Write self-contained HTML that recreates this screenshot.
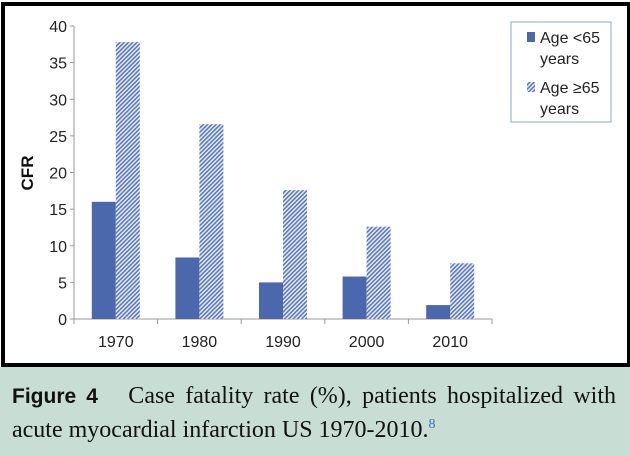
<!DOCTYPE html>
<html><head><meta charset="utf-8"><style>
body{margin:0;width:630px;height:456px;overflow:hidden;background:#fff;font-family:"Liberation Sans",sans-serif}
#frame{position:absolute;left:1px;top:2px;width:622px;height:357px;border:4px solid #000;background:#fff}
#cap{position:absolute;left:0;top:367px;width:630px;height:89px;background:#c8ded5}
.c{position:absolute;font-family:"Liberation Serif",serif;font-size:24px;color:#111}
svg text{font-family:"Liberation Sans",sans-serif}
</style></head><body>
<div id="frame"></div>
<svg id="chart" width="630" height="366" style="position:absolute;left:0;top:0"></svg>
<div id="cap">
<div class="c" style="left:12px;top:16px;width:604px;text-align:justify;text-align-last:justify;white-space:nowrap"><b style="font-family:'Liberation Sans',sans-serif;font-size:21px;margin-right:20px">Figure 4</b> Case fatality rate (%), patients hospitalized with</div>
<div class="c" style="left:12px;top:50px">acute myocardial infarction US 1970-2010.<sup style="color:#2a7ab8;font-size:14px">8</sup></div>
</div>
<script>
const categories=["1970","1980","1990","2000","2010"];
const under65=[16,8.4,5,5.8,1.9];
const over65=[37.8,26.6,17.6,12.6,7.6];
const yTicks=[0,5,10,15,20,25,30,35,40];
const NS="http://www.w3.org/2000/svg";
const svg=document.getElementById('chart');
const x0=74,x1=492,yb=319,yt=26,ymax=40;
const y=v=>yb-(v/ymax)*(yb-yt);
const band=(x1-x0)/categories.length;
function mk(t,a,p){const e=document.createElementNS(NS,t);for(const k in a)e.setAttribute(k,a[k]);(p||svg).appendChild(e);return e;}
const defs=mk('defs',{});
const pat=mk('pattern',{id:'hatch',width:3,height:3,patternUnits:'userSpaceOnUse',patternTransform:'rotate(45)'},defs);
mk('rect',{width:3,height:3,fill:'#eef1fa'},pat);
mk('rect',{width:1.6,height:3,fill:'#5a78bd'},pat);
const ax=mk('line',{x1:x0,y1:yt,x2:x0,y2:yb,stroke:'#999'});

yTicks.forEach(v=>{
 const tk=mk('line',{x1:x0-4,x2:x0,y1:y(v),y2:y(v),stroke:'#999'});
 
 const t=mk('text',{x:x0-7,y:y(v)+6,'text-anchor':'end','font-size':16,fill:'#222'});t.textContent=v;
 
});
const xa=mk('line',{x1:x0,y1:yb,x2:x1,y2:yb,stroke:'#999'});

for(let i=0;i<=categories.length;i++){const tk=mk('line',{x1:x0+i*band,x2:x0+i*band,y1:yb,y2:yb+5,stroke:'#999'});
 }
const bw=24;
categories.forEach((c,i)=>{
 const cx=x0+band*(i+0.5);
 const b1=mk('rect',{x:cx-bw,y:y(under65[i]),width:bw,height:yb-y(under65[i]),fill:'#4a68ab'});
 
 const b2=mk('rect',{x:cx,y:y(over65[i]),width:bw,height:yb-y(over65[i]),fill:'url(#hatch)'});
 
 const t=mk('text',{x:cx,y:yb+28,'text-anchor':'middle','font-size':16,fill:'#222'});t.textContent=c;
 
});
const yl=mk('text',{x:0,y:0,transform:'translate(33,173) rotate(-90)','text-anchor':'middle','font-size':17,'font-weight':'bold',fill:'#111'});yl.textContent='CFR';

const lg=mk('g',{});
mk('rect',{x:511,y:22,width:100,height:100,fill:'#fff',stroke:'#9fb3dc','stroke-width':1.2},lg);
const s1=mk('rect',{x:527,y:32,width:8,height:10,fill:'#4a68ab'},lg);

const s2=mk('rect',{x:527,y:82,width:8,height:10,fill:'url(#hatch)'},lg);

[["Age <65",43],["years",64],["Age \u226565",93],["years",114]].forEach(([s,yy])=>{
 const t=mk('text',{x:540,y:yy,'font-size':16,fill:'#222'},lg);t.textContent=s;
 
});
</script>
</body></html>
